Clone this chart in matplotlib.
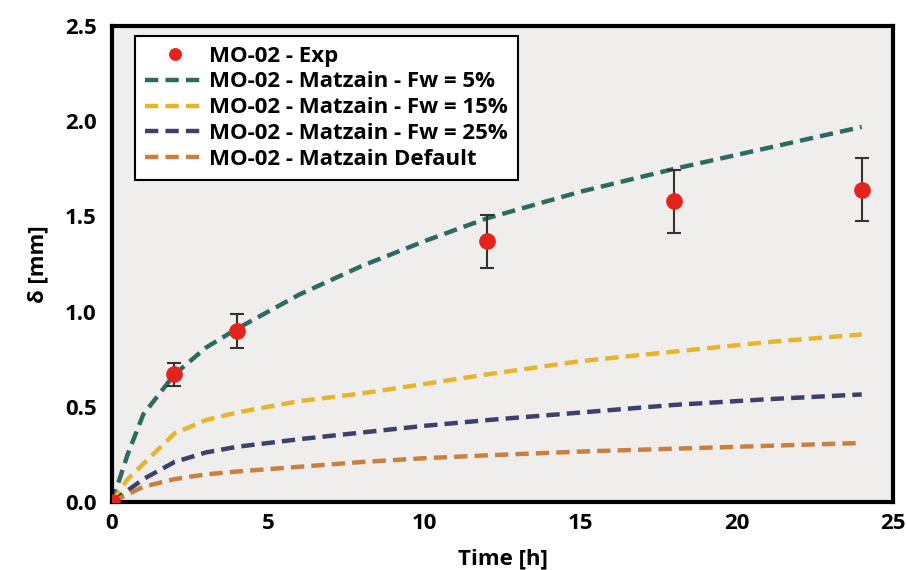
import numpy as np
import matplotlib.pyplot as plt

# experimental points
t_exp = [0, 2, 4, 12, 18, 24]
d_exp = [0.0, 0.67, 0.90, 1.37, 1.58, 1.64]
d_err = [0.0, 0.06, 0.09, 0.14, 0.165, 0.165]

# model curves
t_mod = [0, 0.5, 1, 2, 3, 4, 6, 8, 10, 12, 15, 18, 21, 24]
d_fw5 = [0, 0.25, 0.46, 0.67, 0.81, 0.91, 1.09, 1.24, 1.37, 1.49, 1.63, 1.75, 1.86, 1.97]
d_fw15 = [0, 0.12, 0.20, 0.36, 0.43, 0.47, 0.53, 0.57, 0.62, 0.67, 0.74, 0.79, 0.84, 0.88]
d_fw25 = [0, 0.06, 0.12, 0.21, 0.26, 0.29, 0.33, 0.365, 0.40, 0.43, 0.47, 0.51, 0.54, 0.565]
d_def = [0, 0.04, 0.08, 0.12, 0.145, 0.16, 0.185, 0.21, 0.23, 0.245, 0.265, 0.28, 0.295, 0.31]

labels = ["MO-02 - Exp",
          "MO-02 - Matzain - Fw = 5%",
          "MO-02 - Matzain - Fw = 15%",
          "MO-02 - Matzain - Fw = 25%",
          "MO-02 - Matzain Default"]
colors = ["#E3231C", "#2F6A60", "#E5B52E", "#3D4068", "#C9803F"]

plt.rcParams['font.family'] = ['Open Sans', 'DejaVu Sans']
plt.rcParams['font.weight'] = 'bold'

fig = plt.figure(figsize=(9.07, 5.70), dpi=100)
ax = fig.add_axes([0.1235, 0.1193, 0.861, 0.835])
ax.set_facecolor("#EFEEED")

dash = (0, (3.0, 1.6))
ax.plot(t_mod, d_fw5, color=colors[1], lw=3.2, linestyle=dash, label=labels[1])
ax.plot(t_mod, d_fw15, color=colors[2], lw=3.2, linestyle=dash, label=labels[2])
ax.plot(t_mod, d_fw25, color=colors[3], lw=3.2, linestyle=dash, label=labels[3])
ax.plot(t_mod, d_def, color=colors[4], lw=3.2, linestyle=dash, label=labels[4])

ax.errorbar(t_exp, d_exp, yerr=d_err, fmt='none', ecolor="#333333",
            elinewidth=1.5, capsize=5, capthick=1.5, zorder=4)
ax.plot(t_exp, d_exp, 'o', color=colors[0], ms=11, label=labels[0], zorder=5)

ax.set_xlim(0, 25)
ax.set_ylim(0, 2.5)
ax.set_xticks([0, 5, 10, 15, 20, 25])
ax.set_yticks([0.0, 0.5, 1.0, 1.5, 2.0, 2.5])
ax.set_yticklabels(["0.0", "0.5", "1.0", "1.5", "2.0", "2.5"])
ax.tick_params(length=0, labelsize=16)
ax.tick_params(axis='x', pad=8)
ax.tick_params(axis='y', pad=11)
for lab in ax.get_xticklabels() + ax.get_yticklabels():
    lab.set_fontweight('bold')
for s in ax.spines.values():
    s.set_linewidth(3)
    s.set_color("black")

ax.set_xlabel("Time [h]", fontsize=16, fontweight='bold', labelpad=10)
ax.set_ylabel("δ [mm]", fontsize=16, fontweight='bold', labelpad=12)

h, l = ax.get_legend_handles_labels()
order = [4, 0, 1, 2, 3]
leg = ax.legend([h[i] for i in order], [l[i] for i in order],
                loc='upper left', bbox_to_anchor=(0.029, 0.98),
                frameon=True, fancybox=False, edgecolor='black',
                facecolor='white', framealpha=1, fontsize=16,
                handlelength=2.7, handletextpad=0.2, borderpad=0.45,
                labelspacing=0.22, borderaxespad=0, markerscale=0.75)
leg.get_frame().set_linewidth(1.5)
for txt in leg.get_texts():
    txt.set_fontweight('bold')

fig.savefig("out.png", dpi=100)
